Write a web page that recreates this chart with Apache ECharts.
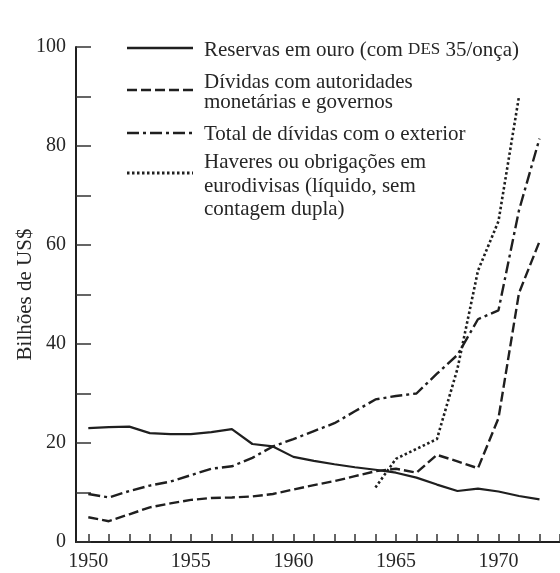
<!DOCTYPE html>
<html>
<head>
<meta charset="utf-8">
<script src="https://cdn.jsdelivr.net/npm/echarts@6/dist/echarts.min.js"></script>
<style>
html,body{margin:0;padding:0;background:#fff;}
#chart{width:560px;height:573px;}
</style>
</head>
<body>
<div id="chart"></div>
<script>
// ---- data ----
const years = [1950,1951,1952,1953,1954,1955,1956,1957,1958,1959,1960,1961,1962,1963,1964,1965,1966,1967,1968,1969,1970,1971,1972];
const goldReserves  = [23.0,23.2,23.3,22.0,21.8,21.8,22.2,22.8,19.8,19.3,17.2,16.4,15.7,15.1,14.6,14.0,13.0,11.6,10.3,10.8,10.2,9.3,8.6];
const officialDebts = [5.0,4.2,5.6,7.0,7.8,8.5,8.9,9.0,9.2,9.7,10.6,11.5,12.3,13.3,14.3,14.8,14.0,17.6,16.3,14.9,25.0,50.3,60.7];
const totalDebts    = [9.7,9.0,10.3,11.4,12.2,13.5,14.8,15.3,17.0,19.3,20.8,22.4,24.0,26.4,28.8,29.5,30.0,34.0,37.8,45.0,46.8,67.0,81.5];
const euroYears = [1964,1965,1966,1967,1968,1969,1970,1971];
const euroNet   = [11.0,16.8,18.8,20.8,35.0,54.8,64.8,90.0];
const tickYears  = [1950,1951,1952,1953,1954,1955,1956,1957,1958,1959,1960,1961,1962,1963,1964,1965,1966,1967,1968,1969,1970,1971,1972,1973];
const labelYears = [1950,1955,1960,1965,1970];
const yTicks = [0,20,40,60,80,100];
const seriesNames = [
  'Reservas em ouro (com DES 35/onça)',
  'Dívidas com autoridades monetárias e governos',
  'Total de dívidas com o exterior',
  'Haveres ou obrigações em eurodivisas (líquido, sem contagem dupla)'
];
const yAxisTitle = 'Bilhões de US$';

const pairs = (xs, vs) => xs.map((x, i) => [x, vs[i]]);

const FONT = 'Liberation Serif';
const INK = '#1f1f1f';
const TXT = '#262626';

const styles = {
  solid:   {color: INK, width: 2.2, type: 'solid'},
  dashed:  {color: INK, width: 2.4, type: [10, 4]},
  dashdot: {color: INK, width: 2.4, type: [12, 4, 3, 4]},
  dotted:  {color: INK, width: 2.6, type: [2.5, 2.5]}
};

const chart = echarts.init(document.getElementById('chart'), null, {renderer: 'canvas'});

const legendRows = [
  {style: styles.solid,   lineY: 48,  textY: 50,  lh: 21,   text: 'Reservas em ouro (com {sc|DES} 35/onça)'},
  {style: styles.dashed,  lineY: 90,  textY: 92,  lh: 20,   text: 'Dívidas com autoridades\nmonetárias e governos'},
  {style: styles.dashdot, lineY: 133, textY: 134, lh: 21,   text: 'Total de dívidas com o exterior'},
  {style: styles.dotted,  lineY: 173, textY: 186, lh: 23.5, text: 'Haveres ou obrigações em\neurodivisas (líquido, sem\ncontagem dupla)'}
];

const graphic = [];
legendRows.forEach(r => {
  graphic.push({
    type: 'line', silent: true,
    shape: {x1: 127, y1: r.lineY, x2: 193, y2: r.lineY},
    style: {stroke: r.style.color, lineWidth: r.style.width + 0.3,
            lineDash: r.style.type === 'solid' ? null : r.style.type}
  });
  graphic.push({
    type: 'text', silent: true, x: 204, y: r.textY,
    style: {
      text: r.text, fill: TXT, fontFamily: FONT, fontSize: 21,
      lineHeight: r.lh, verticalAlign: 'middle', align: 'left',
      rich: {sc: {fontFamily: FONT, fontSize: 17, fill: TXT}}
    }
  });
});

const option = {
  animation: false,
  backgroundColor: '#ffffff',
  grid: {left: 76, right: 0, top: 47, bottom: 31, containLabel: false},
  xAxis: {
    type: 'value', min: 1949.4, max: 1973,
    axisLine: {show: true, onZero: false, lineStyle: {color: INK, width: 2}},
    axisTick: {show: true, inside: true, length: 8, customValues: tickYears,
               lineStyle: {color: '#333', width: 1.5}},
    axisLabel: {show: true, customValues: labelYears, formatter: v => String(v),
                fontFamily: FONT, fontSize: 20, color: TXT, margin: 10},
    splitLine: {show: false}
  },
  yAxis: {
    type: 'value', min: 0, max: 100, interval: 10,
    axisLine: {show: true, lineStyle: {color: INK, width: 2}},
    axisTick: {show: true, inside: true, length: 15, lineStyle: {color: '#333', width: 1.5}},
    axisLabel: {formatter: v => (yTicks.indexOf(v) >= 0 ? String(v) : ''),
                fontFamily: FONT, fontSize: 20, color: TXT, margin: 10},
    splitLine: {show: false},
    name: yAxisTitle, nameLocation: 'middle', nameGap: 40, nameRotate: 90,
    nameMoveOverlap: false,
    nameTextStyle: {fontFamily: FONT, fontSize: 21, color: TXT}
  },
  series: [
    {name: seriesNames[0], type: 'line', data: pairs(years, goldReserves), showSymbol: false, silent: true, lineStyle: styles.solid},
    {name: seriesNames[1], type: 'line', data: pairs(years, officialDebts), showSymbol: false, silent: true, lineStyle: styles.dashed},
    {name: seriesNames[2], type: 'line', data: pairs(years, totalDebts), showSymbol: false, silent: true, lineStyle: styles.dashdot},
    {name: seriesNames[3], type: 'line', data: pairs(euroYears, euroNet), showSymbol: false, silent: true, lineStyle: styles.dotted}
  ],
  graphic: graphic
};
chart.setOption(option);
</script>
</body>
</html>
